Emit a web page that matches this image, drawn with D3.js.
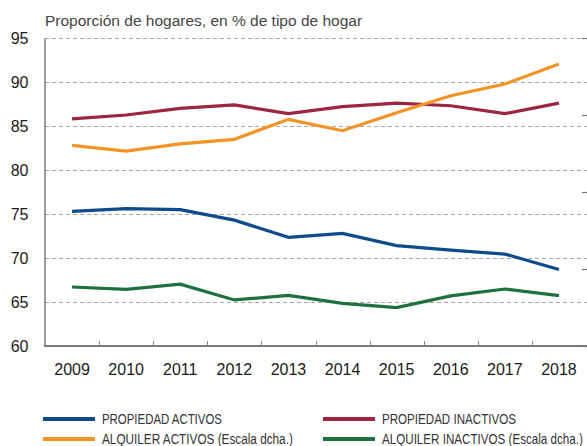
<!DOCTYPE html>
<meta charset="utf-8">
<style>
    body {
        margin: 0;
        background: #fff;
        font-family: "Liberation Sans", Arial, sans-serif;
    }

    .legend text {
        font-family: "Liberation Sans Narrow", "Liberation Sans", sans-serif;
    }
</style>
<svg width="587" height="446"></svg>
<script src="https://d3js.org/d3.v7.min.js"></script>
<script>
    // data
    var years = ["2009", "2010", "2011", "2012", "2013", "2014", "2015", "2016", "2017", "2018"];
    var propiedadActivos = [75.3, 75.6, 75.5, 74.3, 72.35, 72.8, 71.4, 70.9, 70.45, 68.7];
    var propiedadInactivos = [85.8, 86.25, 87.0, 87.4, 86.4, 87.2, 87.6, 87.3, 86.4, 87.6];
    // right axis (labels are cut off in the original)
    var alquilerActivos = [18.03, 17.66, 18.12, 18.42, 19.72, 18.98, 20.15, 21.25, 22.01, 23.31];
    var alquilerInactivos = [8.83, 8.68, 9.01, 7.99, 8.29, 7.77, 7.49, 8.25, 8.7, 8.27];
    var leftTicks = [60, 65, 70, 75, 80, 85, 90, 95];
    var rightTicks = [5, 10, 15, 20, 25];

    var svg = d3.select("svg");

    var plotLeft = 45, plotRight = 586, plotTop = 38, plotBottom = 346;

    var x = d3.scaleBand().domain(years).range([plotLeft, plotRight]).padding(0);
    var yL = d3.scaleLinear().domain([60, 95]).range([plotBottom, plotTop]);
    var yR = d3.scaleLinear().domain([5, 25]).range([plotBottom, plotTop]);

    // title
    svg.append("text")
        .attr("x", 45)
        .attr("y", 26)
        .attr("fill", "#444")
        .style("font-size", "15.5px")
        .text("Proporción de hogares, en % de tipo de hogar");

    // gridlines
    svg.append("g")
        .selectAll("line")
        .data(leftTicks.slice(1))
        .enter().append("line")
        .attr("x1", plotLeft)
        .attr("x2", 587)
        .attr("y1", function (d) { return Math.round(yL(d)) + 0.5; })
        .attr("y2", function (d) { return Math.round(yL(d)) + 0.5; })
        .attr("stroke", "#a6a6a6")
        .attr("stroke-width", 1)
        .attr("stroke-dasharray", "4,3");

    // left axis
    var gL = svg.append("g")
        .attr("transform", "translate(" + (plotLeft - 0.5) + ",0)")
        .call(d3.axisLeft(yL).tickValues(leftTicks).tickSize(0).tickPadding(16));
    gL.select(".domain").attr("stroke", "#7a7a7a").attr("stroke-width", 1.5);
    gL.selectAll("text")
        .attr("fill", "#1a1a1a")
        .style("font-size", "16px")
        .style("font-family", "'Liberation Sans', Arial, sans-serif");

    // right axis ticks, no labels
    svg.append("g")
        .selectAll("line")
        .data(rightTicks)
        .enter().append("line")
        .attr("x1", 582)
        .attr("x2", 587)
        .attr("y1", function (d) { return Math.round(yR(d)) + 0.5; })
        .attr("y2", function (d) { return Math.round(yR(d)) + 0.5; })
        .attr("stroke", "#7a7a7a")
        .attr("stroke-width", 1.2);

    // bottom axis
    svg.append("line")
        .attr("x1", plotLeft - 1)
        .attr("x2", 587)
        .attr("y1", plotBottom)
        .attr("y2", plotBottom)
        .attr("stroke", "#7a7a7a")
        .attr("stroke-width", 2);

    svg.append("g")
        .selectAll("line")
        .data(years.slice(1))
        .enter().append("line")
        .attr("x1", function (d) { return Math.round(x(d)) + 0.5; })
        .attr("x2", function (d) { return Math.round(x(d)) + 0.5; })
        .attr("y1", plotBottom - 5)
        .attr("y2", plotBottom)
        .attr("stroke", "#8a8a8a")
        .attr("stroke-width", 1);

    svg.append("g")
        .selectAll("text")
        .data(years)
        .enter().append("text")
        .attr("x", function (d) { return x(d) + x.bandwidth() / 2; })
        .attr("y", 375)
        .attr("text-anchor", "middle")
        .attr("fill", "#1a1a1a")
        .style("font-size", "16px")
        .text(function (d) { return d; });

    // series
    var series = [
        { name: "PROPIEDAD ACTIVOS", values: propiedadActivos, scale: yL, color: "#0d4b8c" },
        { name: "PROPIEDAD INACTIVOS", values: propiedadInactivos, scale: yL, color: "#9d2542" },
        { name: "ALQUILER ACTIVOS (Escala dcha.)", values: alquilerActivos, scale: yR, color: "#f39325" },
        { name: "ALQUILER INACTIVOS (Escala dcha.)", values: alquilerInactivos, scale: yR, color: "#1e7040" }
    ];

    var cx = function (i) { return x(years[i]) + x.bandwidth() / 2; };

    svg.append("g")
        .selectAll("path")
        .data(series)
        .enter().append("path")
        .attr("fill", "none")
        .attr("stroke", function (d) { return d.color; })
        .attr("stroke-width", 3.2)
        .attr("stroke-linejoin", "miter")
        .attr("d", function (s) {
            return d3.line()
                .x(function (v, i) { return cx(i); })
                .y(function (v) { return s.scale(v); })(s.values);
        });

    // legend
    var legendPos = [
        { x: 43, y: 419 },
        { x: 323, y: 419 },
        { x: 43, y: 439 },
        { x: 323, y: 439 }
    ];
    var textW = [120, 134, 191, 201];

    var lg = svg.append("g").attr("class", "legend")
        .selectAll("g")
        .data(series)
        .enter().append("g")
        .attr("transform", function (d, i) { return "translate(" + legendPos[i].x + "," + legendPos[i].y + ")"; });

    lg.append("line")
        .attr("x1", 0)
        .attr("x2", 52)
        .attr("stroke", function (d) { return d.color; })
        .attr("stroke-width", 4);

    // condensed look: squeeze each label to the width seen in the picture
    lg.append("text")
        .attr("y", 5)
        .attr("fill", "#333")
        .style("font-size", "14px")
        .text(function (d) { return d.name; })
        .attr("transform", function (d, i) {
            var w = this.getComputedTextLength();
            return "translate(59,0) scale(" + (textW[i] / w) + ",1)";
        });
</script>
